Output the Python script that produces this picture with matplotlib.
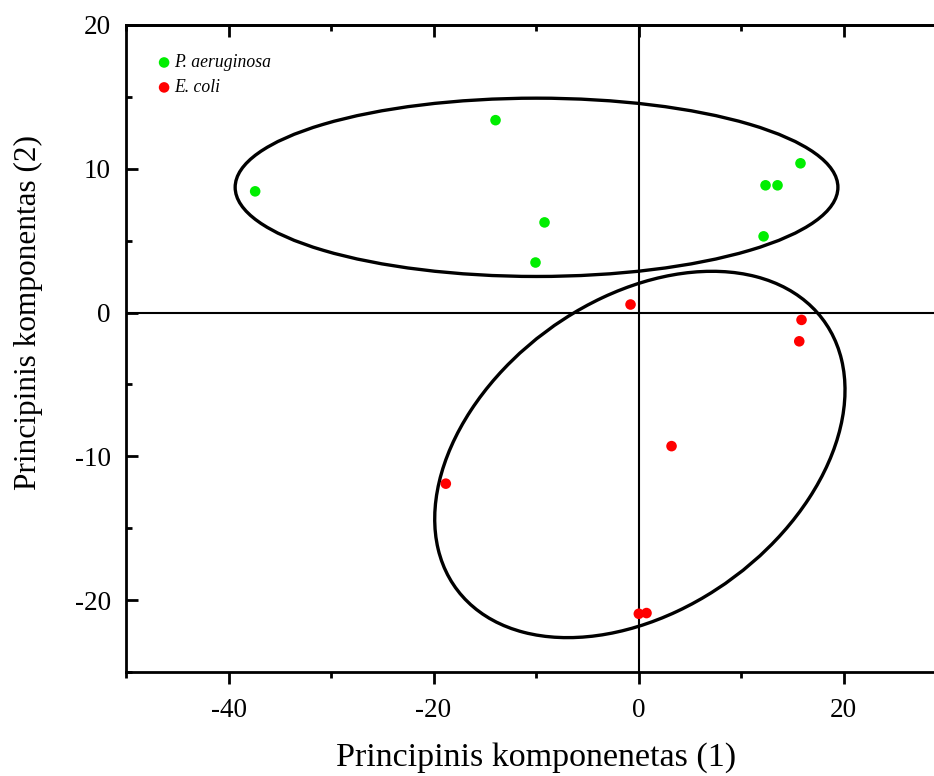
import matplotlib
matplotlib.use("Agg")
import matplotlib.pyplot as plt
from matplotlib.patches import Ellipse
from matplotlib.ticker import MultipleLocator

plt.rcParams['font.family'] = ['Liberation Serif', 'DejaVu Serif']
plt.rcParams['axes.unicode_minus'] = False

###### DATA ######
# PCA scores, component 1 vs component 2
pa_pc1 = [-37.4, -13.95, -9.17, -10.05, 12.39, 13.56, 15.8, 12.2]
pa_pc2 = [8.43, 13.38, 6.27, 3.48, 8.85, 8.85, 10.38, 5.30]

ec_pc1 = [-0.78, 15.9, 15.68, 3.22, -18.8, 0.03, 0.78]
ec_pc2 = [0.56, -0.51, -2.0, -9.29, -11.9, -20.95, -20.9]

group_labels = ['P. aeruginosa', 'E. coli']
group_colors = ['#00ee00', '#ff0000']

# group ellipses: centre (pc1, pc2), full width, full height, rotation (deg)
pa_ellipse = ((-9.95, 8.71), 58.8, 12.4, 0.0)
ec_ellipse = ((0.13, -9.87), 41.5, 23.0, 18.5)

###### PLOT ######
fig = plt.figure(figsize=(9.34, 7.76), dpi=100)
ax = fig.add_axes([0.1349, 0.134, 0.878, 0.8338])

ax.set_xlim(-50, 30)
ax.set_ylim(-25, 20)

# zero lines
ax.axhline(0, color='black', lw=1.5, zorder=1)
ax.axvline(0, color='black', lw=1.5, zorder=1)

for (c, w, h, ang) in (pa_ellipse, ec_ellipse):
    ax.add_patch(Ellipse(c, w, h, angle=ang, fill=False,
                         edgecolor='black', lw=2.4, zorder=2))

h1 = ax.scatter(pa_pc1, pa_pc2, s=58, color=group_colors[0],
                edgecolors='none', zorder=3, label=group_labels[0])
h2 = ax.scatter(ec_pc1, ec_pc2, s=58, color=group_colors[1],
                edgecolors='none', zorder=3, label=group_labels[1])

leg = ax.legend(handles=[h1, h2], loc='upper left',
                bbox_to_anchor=(0.040, 0.955), frameon=False,
                prop={'family': 'Liberation Serif', 'style': 'italic', 'size': 12.7},
                handlelength=0.6, handletextpad=0.25, borderpad=0,
                borderaxespad=0, labelspacing=0.45, markerscale=1.0)

# ticks
for s in ax.spines.values():
    s.set_linewidth(2)

ax.xaxis.set_major_locator(MultipleLocator(20))
ax.xaxis.set_minor_locator(MultipleLocator(10))
ax.yaxis.set_major_locator(MultipleLocator(10))
ax.yaxis.set_minor_locator(MultipleLocator(5))

ax.tick_params(axis='x', which='both', direction='out', width=2,
               labelsize=19.5, pad=10)
ax.tick_params(axis='x', which='major', length=8.5)
ax.tick_params(axis='x', which='minor', length=4.3)
ax.tick_params(axis='y', which='both', direction='in', width=2,
               right=True, labelsize=19.5, pad=11)
ax.tick_params(axis='y', which='major', length=8.5)
ax.tick_params(axis='y', which='minor', length=4.3)

top = ax.secondary_xaxis('top')
top.xaxis.set_major_locator(MultipleLocator(20))
top.xaxis.set_minor_locator(MultipleLocator(10))
top.tick_params(which='both', direction='in', width=2, labeltop=False)
top.tick_params(which='major', length=8.5)
top.tick_params(which='minor', length=4.3)
top.spines['top'].set_linewidth(2)

ax.set_xlabel('Principinis komponenetas (1)', fontsize=24.5, labelpad=14)
ax.set_ylabel('Principinis komponentas (2)', fontsize=22.5)
ax.yaxis.set_label_coords(-0.101, 0.555)

fig.savefig('out.png', dpi=100)
